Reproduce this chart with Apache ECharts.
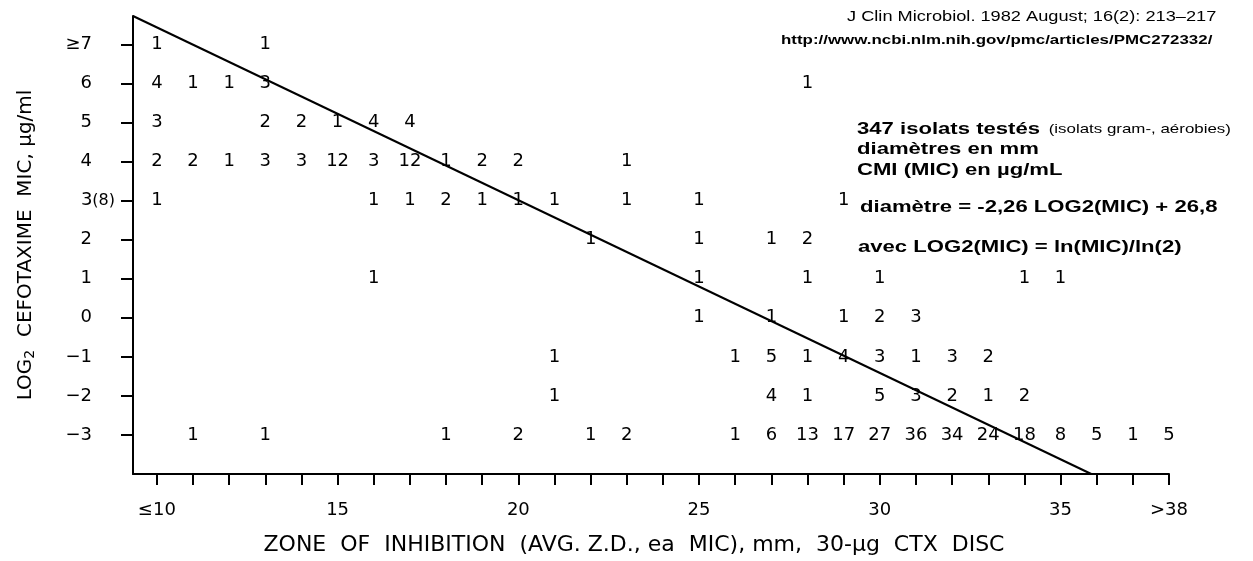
<!DOCTYPE html>
<html>
<head>
<meta charset="utf-8">
<script src="https://cdn.jsdelivr.net/npm/echarts@6/dist/echarts.min.js"></script>
<style>
    html, body { margin: 0; padding: 0; background: #fff; }
    #main { width: 1253px; height: 561px; }
</style>
</head>
<body>
<div id="main"></div>
<script>
// log2 MIC rows (top to bottom), each row = [diameter mm, number of isolates]
const micLevels = [7, 6, 5, 4, 3, 2, 1, 0, -1, -2, -3]
const row7 = [[10, 1], [13, 1]]
const row6 = [[10, 4], [11, 1], [12, 1], [13, 3], [28, 1]]
const row5 = [[10, 3], [13, 2], [14, 2], [15, 1], [16, 4], [17, 4]]
const row4 = [[10, 2], [11, 2], [12, 1], [13, 3], [14, 3], [15, 12], [16, 3], [17, 12], [18, 1], [19, 2], [20, 2], [23, 1]]
const row3 = [[10, 1], [16, 1], [17, 1], [18, 2], [19, 1], [20, 1], [21, 1], [23, 1], [25, 1], [29, 1]]
const row2 = [[22, 1], [25, 1], [27, 1], [28, 2]]
const row1 = [[16, 1], [25, 1], [28, 1], [30, 1], [34, 1], [35, 1]]
const row0 = [[25, 1], [27, 1], [29, 1], [30, 2], [31, 3]]
const rowM1 = [[21, 1], [26, 1], [27, 5], [28, 1], [29, 4], [30, 3], [31, 1], [32, 3], [33, 2]]
const rowM2 = [[21, 1], [27, 4], [28, 1], [30, 5], [31, 3], [32, 2], [33, 1], [34, 2]]
const rowM3 = [[11, 1], [13, 1], [18, 1], [20, 2], [22, 1], [23, 2], [26, 1], [27, 6], [28, 13], [29, 17],
    [30, 27], [31, 36], [32, 34], [33, 24], [34, 18], [35, 8], [36, 5], [37, 1], [38, 5]]
const rows = [row7, row6, row5, row4, row3, row2, row1, row0, rowM1, rowM2, rowM3]

// ticks and labels
const zoneTicks = [10, 11, 12, 13, 14, 15, 16, 17, 18, 19, 20, 21, 22, 23, 24, 25, 26, 27, 28, 29, 30, 31, 32, 33, 34, 35, 36, 37, 38]
const zoneLabels = [10, 15, 20, 25, 30, 35, 38]
const micTicks = [-3, -2, -1, 0, 1, 2, 3, 4, 5, 6, 7]

// regression line ends
const fitLine = [[9.34, 7.73], [35.85, -4]]

let pointData = []
rows.forEach((row, i) => {
    row.forEach(v => pointData.push([v[0], micLevels[i], v[1]]))
})

var myChart = echarts.init(document.getElementById('main'))

const chartFont = 'DejaVu Sans'
const noteFont = 'Liberation Sans'
// the scanned notes are stretched sideways
const stretch = 1.3

function note(text, x, y, font) {
    return {
        type: 'text', x: x, y: y, scaleX: stretch,
        style: { text: text, font: font, fill: '#000', verticalAlign: 'middle' }
    }
}

var option = {
    backgroundColor: '#fff',
    animation: false,
    grid: {
        left: 133,
        right: 84,
        top: 16,
        bottom: 83
    },
    xAxis: {
        type: 'value',
        min: 9.34,
        max: 38,
        name: 'ZONE  OF  INHIBITION  (AVG. Z.D., ea  MIC), mm,  30-\u03bcg  CTX  DISC',
        nameLocation: 'middle',
        nameGap: 60,
        nameTextStyle: {
            fontFamily: chartFont,
            fontSize: 22,
            color: '#000',
            padding: [0, 34, 0, 0]
        },
        splitLine: { show: false },
        axisLine: { onZero: false, lineStyle: { color: '#000', width: 2 } },
        axisTick: {
            customValues: zoneTicks,
            length: 11,
            lineStyle: { color: '#000', width: 2 }
        },
        axisLabel: {
            customValues: zoneLabels,
            margin: 27,
            fontFamily: chartFont,
            fontSize: 18,
            color: '#000',
            formatter: v => v === 10 ? '\u226410' : (v === 38 ? '>38' : String(v))
        }
    },
    yAxis: {
        type: 'value',
        min: -4,
        max: 7.73,
        name: 'LOG{sub|2}  CEFOTAXIME  MIC, \u03bcg/ml',
        nameLocation: 'middle',
        nameRotate: 90,
        nameGap: 96,
        nameTextStyle: {
            fontFamily: chartFont,
            fontSize: 20,
            color: '#000',
            rich: {
                sub: { fontFamily: chartFont, fontSize: 14, color: '#000', verticalAlign: 'bottom', padding: [9, 0, 0, 0] }
            }
        },
        splitLine: { show: false },
        axisLine: { onZero: false, lineStyle: { color: '#000', width: 2 } },
        axisTick: {
            customValues: micTicks,
            length: 12,
            lineStyle: { color: '#000', width: 2 }
        },
        axisLabel: {
            customValues: micTicks,
            margin: 18,
            fontFamily: chartFont,
            fontSize: 18,
            color: '#000',
            formatter: v => {
                if (v === 3) return '{n|3}{p|(8)}'
                let txt = v === 7 ? '\u22657' : (v < 0 ? '\u2212' + Math.abs(v) : String(v))
                return '{m|' + txt + '}'
            },
            rich: {
                n: { fontFamily: chartFont, fontSize: 18, color: '#000' },
                p: { fontFamily: chartFont, fontSize: 16, color: '#000' },
                m: { fontFamily: chartFont, fontSize: 18, color: '#000', padding: [0, 23, 0, 0] }
            }
        }
    },
    graphic: [
        note('J Clin Microbiol. 1982 August; 16(2): 213\u2013217', 847, 17, '14px ' + noteFont),
        note('http://www.ncbi.nlm.nih.gov/pmc/articles/PMC272332/', 781, 40, 'bold 13px ' + noteFont),
        {
            type: 'text', x: 857, y: 129, scaleX: stretch,
            style: {
                text: '{b|347 isolats test\u00e9s}  {s|(isolats gram-, a\u00e9robies)}',
                fill: '#000',
                verticalAlign: 'middle',
                rich: {
                    b: { font: 'bold 17px ' + noteFont, fill: '#000' },
                    s: { font: '13px ' + noteFont, fill: '#000' }
                }
            }
        },
        note('diam\u00e8tres en mm', 857, 149, 'bold 17px ' + noteFont),
        note('CMI (MIC) en \u00b5g/mL', 857, 170, 'bold 17px ' + noteFont),
        note('diam\u00e8tre = -2,26 LOG2(MIC) + 26,8', 860, 207, 'bold 17px ' + noteFont),
        note('avec LOG2(MIC) = ln(MIC)/ln(2)', 858, 247, 'bold 17px ' + noteFont)
    ],
    series: [
        {
            name: 'isolats',
            type: 'scatter',
            data: pointData,
            symbolSize: 1,
            itemStyle: { color: 'rgba(0,0,0,0)', opacity: 1 },
            label: {
                show: true,
                position: 'inside',
                fontFamily: chartFont,
                fontSize: 18,
                color: '#000',
                opacity: 1,
                formatter: p => String(p.value[2])
            },
            labelLayout: { hideOverlap: false },
            z: 3
        },
        {
            name: 'fit',
            type: 'line',
            data: fitLine,
            symbol: 'none',
            lineStyle: { color: '#000', width: 2 },
            z: 4
        }
    ]
}

myChart.setOption(option)
</script>
</body>
</html>
